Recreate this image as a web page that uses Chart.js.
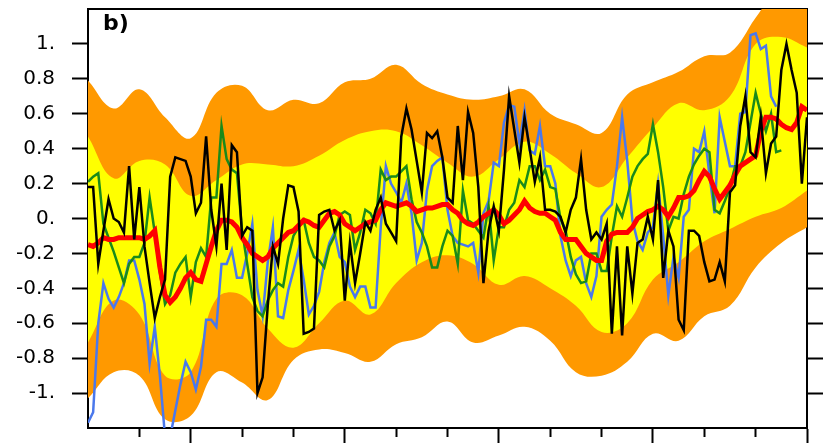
<!DOCTYPE html>
<html>
<head>
<meta charset="utf-8">
<script src="https://cdn.jsdelivr.net/npm/chart.js@4/dist/chart.umd.min.js"></script>
<style>
  body { margin: 0; background: #fff; }
</style>
</head>
<body>
<canvas id="chart" width="823" height="443"></canvas>
<script>
// annual series 1870-2010, spread bands every 5 years
var startYear = 1870;
var bandYears = [1870, 1875, 1880, 1885, 1890, 1895, 1900, 1905, 1910, 1915,
  1920, 1925, 1930, 1935, 1940, 1945, 1950, 1955, 1960, 1965,
  1970, 1975, 1980, 1985, 1990, 1995, 2000, 2005, 2010];
var yTicks = [-1, -0.8, -0.6, -0.4, -0.2, 0, 0.2, 0.4, 0.6, 0.8, 1];

var orangeHi = [0.79, 0.63, 0.74, 0.58, 0.46, 0.72, 0.76, 0.62, 0.68, 0.66,
  0.78, 0.80, 0.88, 0.77, 0.71, 0.68, 0.70, 0.74, 0.60, 0.54,
  0.49, 0.71, 0.78, 0.84, 0.93, 0.95, 1.15, 1.35, 1.45];
var yellowHi = [0.47, 0.23, 0.33, 0.31, 0.13, 0.22, 0.31, 0.31, 0.30, 0.36,
  0.45, 0.50, 0.50, 0.42, 0.32, 0.24, 0.34, 0.44, 0.37, 0.26,
  0.18, 0.35, 0.52, 0.66, 0.62, 0.70, 1.00, 1.04, 0.98];
var yellowLo = [-0.71, -0.47, -0.55, -0.90, -0.88, -0.46, -0.44, -0.63, -0.74, -0.60,
  -0.47, -0.55, -0.37, -0.25, -0.21, -0.26, -0.38, -0.33, -0.40, -0.50,
  -0.65, -0.60, -0.35, -0.25, -0.13, -0.06, 0.01, 0.06, 0.16];
var orangeLo = [-1.03, -0.88, -0.90, -1.15, -1.13, -0.88, -0.94, -1.04, -0.81, -0.75,
  -0.77, -0.82, -0.72, -0.68, -0.59, -0.71, -0.67, -0.62, -0.70, -0.88,
  -0.90, -0.82, -0.66, -0.70, -0.56, -0.50, -0.28, -0.14, -0.05];

var blackSeries = [0.18, 0.18, -0.26, -0.07, 0.11, 0.00, -0.02, -0.08, 0.30, -0.12,
  0.18, -0.16, -0.37, -0.57, -0.45, -0.35, 0.24, 0.35, 0.34, 0.33,
  0.24, 0.03, 0.09, 0.47, 0.05, -0.16, 0.20, -0.18, 0.42, 0.38,
  -0.10, -0.05, -0.07, -1.00, -0.91, -0.50, -0.16, -0.26, 0.00, 0.19,
  0.18, 0.04, -0.66, -0.65, -0.63, 0.02, 0.04, 0.05, -0.07, -0.01,
  -0.47, -0.14, -0.37, -0.20, -0.02, -0.07, 0.05, 0.12, -0.03, -0.08,
  -0.13, 0.47, 0.63, 0.51, 0.33, 0.15, 0.49, 0.46, 0.50, 0.35,
  0.12, 0.09, 0.53, 0.22, 0.61, 0.49, 0.18, -0.37, -0.07, 0.07,
  -0.07, 0.28, 0.70, 0.51, 0.32, 0.58, 0.40, 0.21, 0.35, 0.05,
  0.05, 0.04, 0.01, -0.08, 0.05, 0.12, 0.34, 0.05, -0.12, -0.08,
  -0.12, -0.03, -0.66, -0.16, -0.67, -0.16, -0.43, -0.14, -0.12, 0.01,
  -0.12, 0.22, -0.34, -0.07, -0.16, -0.58, -0.64, -0.07, -0.07, -0.10,
  -0.25, -0.36, -0.35, -0.25, -0.36, 0.15, 0.19, 0.53, 0.70, 0.38,
  0.35, 0.58, 0.26, 0.43, 0.47, 0.85, 1.00, 0.85, 0.72, 0.20,
  0.58];
var redSeries = [-0.15, -0.16, -0.14, -0.11, -0.12, -0.12, -0.11, -0.11, -0.11, -0.11,
  -0.11, -0.12, -0.10, -0.07, -0.28, -0.44, -0.48, -0.45, -0.40, -0.34,
  -0.31, -0.35, -0.36, -0.26, -0.16, -0.07, -0.01, -0.01, -0.02, -0.05,
  -0.11, -0.15, -0.20, -0.22, -0.24, -0.22, -0.17, -0.14, -0.11, -0.08,
  -0.07, -0.04, -0.01, -0.02, -0.04, -0.05, -0.01, 0.03, 0.04, 0.02,
  -0.03, -0.05, -0.07, -0.05, -0.03, -0.02, -0.01, 0.05, 0.09, 0.08,
  0.07, 0.08, 0.09, 0.07, 0.04, 0.05, 0.06, 0.06, 0.07, 0.08,
  0.08, 0.05, 0.03, -0.01, -0.03, -0.04, -0.02, 0.01, 0.03, 0.05,
  0.02, -0.03, -0.01, 0.02, 0.05, 0.10, 0.06, 0.04, 0.03, 0.03,
  0.01, -0.01, -0.08, -0.12, -0.12, -0.12, -0.16, -0.20, -0.22, -0.24,
  -0.24, -0.13, -0.09, -0.08, -0.08, -0.08, -0.05, 0.00, 0.02, 0.04,
  0.05, 0.07, 0.05, 0.01, 0.06, 0.12, 0.12, 0.13, 0.16, 0.22,
  0.27, 0.24, 0.17, 0.11, 0.15, 0.19, 0.25, 0.30, 0.32, 0.34,
  0.36, 0.50, 0.58, 0.58, 0.57, 0.54, 0.52, 0.51, 0.55, 0.64,
  0.62];
var greenSeries = [0.21, 0.24, 0.26, -0.03, -0.11, -0.19, -0.28, -0.37, -0.26, -0.22,
  -0.22, -0.14, 0.12, -0.08, -0.31, -0.49, -0.44, -0.31, -0.26, -0.22,
  -0.45, -0.25, -0.17, -0.22, 0.12, 0.12, 0.53, 0.34, 0.28, 0.26,
  -0.07, -0.26, -0.45, -0.53, -0.56, -0.47, -0.41, -0.37, -0.39, -0.22,
  -0.10, -0.05, -0.01, -0.14, -0.22, -0.24, -0.28, -0.16, -0.10, 0.02,
  0.04, 0.02, -0.18, -0.08, 0.05, 0.03, -0.03, 0.28, 0.22, 0.24,
  0.24, 0.27, 0.30, 0.11, -0.02, -0.08, -0.16, -0.28, -0.28, -0.16,
  -0.07, -0.10, -0.26, 0.16, -0.01, -0.03, -0.07, -0.11, 0.07, -0.24,
  -0.05, -0.05, 0.05, 0.09, 0.22, 0.18, 0.30, 0.30, 0.22, 0.28,
  0.18, 0.17, 0.00, -0.07, -0.22, -0.32, -0.37, -0.36, -0.20, -0.20,
  -0.30, -0.30, -0.10, 0.07, 0.01, 0.12, 0.24, 0.30, 0.34, 0.37,
  0.54, 0.38, 0.18, -0.07, 0.01, 0.00, 0.14, 0.24, 0.31, 0.36,
  0.40, 0.38, 0.05, 0.03, 0.10, 0.18, 0.30, 0.30, 0.38, 0.55,
  0.72, 0.60, 0.50, 0.60, 0.38, 0.39, null, null, null, null,
  null];
var blueSeries = [-1.17, -1.11, -0.60, -0.37, -0.46, -0.51, -0.45, -0.37, -0.24, -0.24,
  -0.35, -0.49, -0.83, -0.62, -0.90, -1.25, -1.25, -1.10, -0.95, -0.82,
  -0.88, -0.98, -0.85, -0.58, -0.58, -0.62, -0.26, -0.26, -0.18, -0.34,
  -0.34, -0.20, -0.03, -0.41, -0.56, -0.25, -0.05, -0.56, -0.57, -0.41,
  -0.30, -0.18, -0.35, -0.55, -0.50, -0.42, -0.25, -0.14, -0.08, -0.22,
  -0.25, -0.39, -0.45, -0.39, -0.39, -0.51, -0.51, -0.05, 0.30, 0.20,
  0.15, 0.09, 0.20, 0.03, -0.24, -0.14, 0.16, 0.30, 0.33, 0.35,
  0.05, -0.10, -0.14, -0.15, -0.16, -0.14, -0.31, 0.03, 0.10, 0.32,
  0.30, 0.55, 0.65, 0.64, 0.43, 0.62, 0.39, 0.37, 0.53, 0.30,
  0.30, 0.20, -0.10, -0.24, -0.33, -0.24, -0.22, -0.37, -0.45, -0.33,
  0.01, 0.05, 0.08, 0.30, 0.58, 0.33, -0.01, -0.13, -0.18, -0.08,
  -0.05, 0.20, -0.10, -0.44, -0.22, -0.34, 0.01, 0.05, 0.40, 0.38,
  0.50, 0.25, 0.03, 0.58, 0.44, 0.30, 0.30, 0.60, 0.61, 1.05,
  1.06, 0.97, 0.99, 0.70, 0.64, null, null, null, null, null,
  null];

function annual(values) {
  return values.map(function (v, i) { return { x: startYear + i, y: v }; });
}
function banded(values) {
  return values.map(function (v, i) { return { x: bandYears[i], y: v }; });
}

function lineSet(data, color, width, order) {
  return { data: annual(data), borderColor: color, borderWidth: width,
    pointRadius: 0, fill: false, tension: 0, order: order };
}
function bandSet(data, color, fill, order) {
  return { data: banded(data), borderWidth: 0, borderColor: color, backgroundColor: color,
    pointRadius: 0, fill: fill, tension: 0.4, order: order };
}

function tickLabel(v) {
  var n = Math.round(v * 10) / 10;
  if (Math.abs(n) < 1e-9) return '0.';
  if (Number.isInteger(n)) return n + '.';
  return n.toFixed(1);
}

// fixed box sizes so the plot frame sits where it does in the figure
function fixBox(w, h) {
  return function (s) {
    if (w !== null) s.width = w;
    if (h !== null) s.height = h;
    s.paddingTop = s.paddingBottom = s.paddingLeft = s.paddingRight = 0;
  };
}

var panelLabel = {
  id: 'panelLabel',
  afterDraw: function (chart) {
    var ctx = chart.ctx, a = chart.chartArea;
    ctx.save();
    ctx.font = 'bold 22px "DejaVu Sans"';
    ctx.fillStyle = '#000';
    ctx.fillText('b)', a.left + 15, a.top + 21);
    ctx.restore();
  }
};

new Chart(document.getElementById('chart'), {
  type: 'line',
  data: {
    datasets: [
      lineSet(blackSeries, '#000000', 2.5, 1),
      lineSet(redSeries, '#ff0000', 5, 2),
      lineSet(greenSeries, '#1a8a1a', 2.5, 3),
      lineSet(blueSeries, '#4a78ec', 2.5, 4),
      bandSet(yellowHi, '#ffff00', 5, 5),
      bandSet(yellowLo, '#ffff00', false, 6),
      bandSet(orangeHi, '#ff9900', 7, 7),
      bandSet(orangeLo, '#ff9900', false, 8)
    ]
  },
  options: {
    responsive: false,
    animation: false,
    events: [],
    layout: { autoPadding: false, padding: { top: 9, left: 0, right: 0, bottom: 0 } },
    plugins: { legend: { display: false }, tooltip: { enabled: false } },
    scales: {
      x: {
        type: 'linear', position: 'bottom', min: 1870, max: 2010, z: 1,
        afterFit: fixBox(null, 15),
        ticks: { display: false, stepSize: 10 },
        grid: {
          drawOnChartArea: false, tickLength: 16, tickWidth: 2,
          tickColor: function (c) { return c.tick && c.tick.value === 1870 ? 'rgba(0,0,0,0)' : '#000'; },
          tickBorderDash: function (c) { return c.tick && (c.tick.value - 1890) % 30 === 0 ? [] : [8, 40]; }
        },
        border: { color: '#000', width: 2 }
      },
      xTop: {
        type: 'linear', position: 'top', min: 1870, max: 2010, z: 1,
        afterFit: fixBox(null, 0),
        ticks: { display: false },
        grid: { display: false },
        border: { display: true, color: '#000', width: 2 }
      },
      y: {
        position: 'left', min: -1.2, max: 1.2, z: 1,
        afterFit: fixBox(88, null),
        afterBuildTicks: function (s) { s.ticks = yTicks.map(function (v) { return { value: v }; }); },
        ticks: { color: '#000', padding: 17, font: { family: 'DejaVu Sans', size: 20 }, callback: tickLabel },
        grid: { drawOnChartArea: false, tickLength: 16, tickWidth: 2, tickColor: '#000' },
        border: { color: '#000', width: 2 }
      },
      yRight: {
        position: 'right', min: -1.2, max: 1.2, z: 1,
        afterFit: fixBox(16, null),
        afterBuildTicks: function (s) { s.ticks = yTicks.map(function (v) { return { value: v }; }); },
        ticks: { display: false },
        grid: { drawOnChartArea: false, tickLength: 16, tickWidth: 2, tickColor: '#000' },
        border: { color: '#000', width: 2 }
      }
    }
  },
  plugins: [panelLabel]
});
</script>
</body>
</html>
